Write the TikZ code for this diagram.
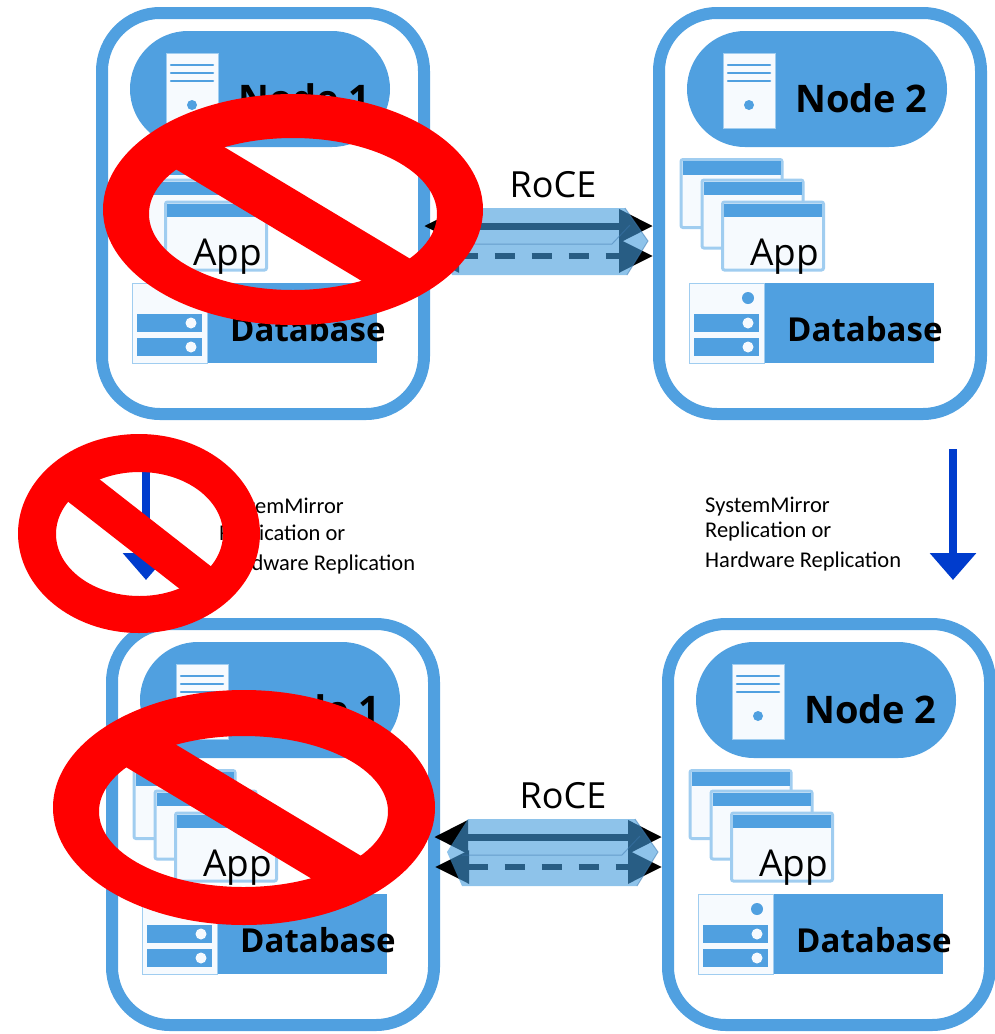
\documentclass[tikz,border=0pt]{standalone}
\usepackage{fontspec}
\setmainfont{Open Sans}
\newfontfamily\notefont{Carlito}
\usetikzlibrary{arrows.meta,calc}

\definecolor{nodeblue}{RGB}{80,160,224}
\definecolor{winedge}{RGB}{160,205,240}
\definecolor{paper}{RGB}{246,250,254}
\definecolor{pipeblue}{RGB}{67,155,220}
\definecolor{pipeedge}{RGB}{60,120,175}
\definecolor{flowblue}{RGB}{0,60,205}
\definecolor{banred}{RGB}{255,0,0}

\tikzset{
  panelframe/.style={draw=nodeblue, line width=12pt, fill=white, rounded corners=58pt,
    minimum width=322pt, minimum height=401pt, inner sep=0pt, outer sep=0pt},
  pill/.style={fill=nodeblue, rounded corners=58pt, minimum width=260pt,
    minimum height=116pt, inner sep=0pt},
  tower/.style={fill=paper, draw=winedge, line width=0.8pt, minimum width=52pt,
    minimum height=75pt, inner sep=0pt},
  towerline/.style={nodeblue, line width=2.5pt, line cap=round},
  win/.style={fill=paper, draw=winedge, line width=3pt, rounded corners=2pt,
    minimum width=101pt, minimum height=68pt, inner sep=0pt},
  dbbar/.style={fill=nodeblue, minimum width=245pt, minimum height=80pt, inner sep=0pt},
  dbicon/.style={fill=paper, draw=winedge, line width=1pt, minimum width=75pt,
    minimum height=80pt, inner sep=0pt},
  namefont/.style={anchor=base west, inner sep=0pt, font=\bfseries\fontsize{38pt}{38pt}\selectfont},
  dbfont/.style={anchor=base west, inner sep=0pt, font=\bfseries\fontsize{33pt}{33pt}\selectfont},
  appfont/.style={anchor=base west, inner sep=0pt, font=\fontsize{37pt}{37pt}\selectfont},
  rocefont/.style={anchor=base, inner sep=0pt, font=\fontsize{36pt}{36pt}\selectfont},
  note/.style={anchor=base west, inner sep=0pt, font=\notefont\fontsize{22.5pt}{22.5pt}\selectfont},
  pipeline/.style={line width=7pt, black,
    {Triangle[length=34pt,width=32pt]}-{Triangle[length=34pt,width=32pt]}},
  pipedash/.style={line width=6pt, black, dash pattern=on 20pt off 17pt,
    {Triangle[length=34pt,width=32pt]}-{Triangle[length=34pt,width=32pt]}},
  flow/.style={flowblue, line width=8pt, -{Triangle[length=27pt,width=45pt]}},
  % one server panel: host pill, stacked application windows, database bar
  pics/panel/.style={code={
    \node[panelframe] (-frame) at (263,213.5) {};
    \node[pill] (-pill) at (260,89) {};
    \node[tower] (-tower) at (192,90.5) {};
    \foreach \ly in {65,73,81}{\draw[towerline] (171,\ly) -- (213,\ly);}
    \fill[nodeblue] (192,105) circle[radius=5pt];
    \node[namefont] (-name) at (238,112) {#1};
    \foreach \cx/\cy [count=\k] in {174.5/193.5, 195.5/214, 216/236}{
      \node[win] (-w\k) at (\cx,\cy) {};
      \fill[nodeblue] (\cx-49,\cy-32.5) rectangle (\cx+49,\cy-19);
    }
    \node[appfont] (-app) at (193,265) {App};
    \node[dbbar] (-db) at (254.5,323) {};
    \node[dbicon] (-dbicon) at (169.5,323) {};
    \fill[nodeblue] (191,298) circle[radius=6pt];
    \fill[nodeblue] (137,314) rectangle (202,332);
    \fill[nodeblue] (137,338) rectangle (202,356);
    \fill[paper] (191,323) circle[radius=5.5pt];
    \fill[paper] (191,347) circle[radius=5.5pt];
    \node[dbfont] (-dbname) at (230,341) {Database};
  }},
  % translucent prism laid over the RoCE links
  pics/pipe/.style={code={
    \fill[pipeblue, fill opacity=0.6] (34,-18) -- (201,-18) -- (224,15) -- (203,49)
      -- (28,49) -- (13,15) -- cycle;
    \draw[pipeedge, line width=1pt, draw opacity=0.5] (28,18) -- (188,18) -- (206,-1);
    \draw[pipeedge, line width=1pt, draw opacity=0.5] (201,-18) -- (224,15) -- (203,49);
  }}
}

\begin{document}
\begin{tikzpicture}[x=1pt,y=-1pt]
\useasboundingbox (0,0) rectangle (995,1034);

% the four server panels
\pic (tl) at (0,0) {panel=Node 1};
\pic (tr) at (557,0) {panel=Node 2};
\pic (bl) at (10,611) {panel=Node 1};
\pic (br) at (566,611) {panel=Node 2};

% RoCE links between the panels of each row
\foreach \a/\b/\tag in {tl/tr/top, bl/br/bottom}{
  \coordinate (\tag-la) at ($(\a-frame.east)+(0,12.5)$);
  \coordinate (\tag-ra) at ($(\b-frame.west)+(-6,12.5)$);
  \coordinate (\tag-lb) at ($(\a-frame.east)+(1,42.5)$);
  \coordinate (\tag-rb) at ($(\b-frame.west)+(-6,42.5)$);
  \draw[pipeline] (\tag-la) -- (\tag-ra);
  \draw[pipedash] (\tag-lb) -- (\tag-rb);
  \pic at (\tag-la) {pipe};
  \node[rocefont] (\tag-roce) at ($(\tag-la)+(129,-29)$) {RoCE};
}

% replication arrows and their captions
\coordinate (repl-l-start) at (146,449);
\coordinate (repl-l-end) at (146,580);
\coordinate (repl-r-start) at (953,449);
\coordinate (repl-r-end) at (953,580);
\draw[flow] (repl-l-start) -- (repl-l-end);
\draw[flow] (repl-r-start) -- (repl-r-end);

\node[note] (capl-1) at (219,513) {SystemMirror};
\node[note] (capl-2) at (219,540) {Replication or};
\node[note] (capl-3) at (219,570) {Hardware Replication};
\node[note] (capr-1) at (705,512) {SystemMirror};
\node[note] (capr-2) at (705,537) {Replication or};
\node[note] (capr-3) at (705,567) {Hardware Replication};

% prohibition signs
\fill[banred, even odd rule] (293,209.5) ellipse[x radius=190pt, y radius=115.5pt]
  (293,214) ellipse[x radius=144pt, y radius=76pt];
\begin{scope}
  \clip (293,214) ellipse[x radius=145pt, y radius=77pt];
  \draw[banred, line width=44pt] (293,214) ++(-257,-154.5) -- ++(514,309);
\end{scope}

\fill[banred, even odd rule] (139,533.5) ellipse[x radius=121pt, y radius=99.5pt]
  (139.5,534) ellipse[x radius=83.5pt, y radius=62pt];
\begin{scope}
  \clip (139.5,534) ellipse[x radius=84.5pt, y radius=63pt];
  \draw[banred, line width=37pt] (139.5,534) ++(-157.6,-123.1) -- ++(315.2,246.2);
\end{scope}

\fill[banred, even odd rule] (244,807.5) ellipse[x radius=191pt, y radius=117.5pt]
  (243.5,811.5) ellipse[x radius=144.5pt, y radius=75.5pt];
\begin{scope}
  \clip (243.5,811.5) ellipse[x radius=145.5pt, y radius=76.5pt];
  \draw[banred, line width=45pt] (243.5,811.5) ++(-257,-154.5) -- ++(514,309);
\end{scope}
\end{tikzpicture}
\end{document}
